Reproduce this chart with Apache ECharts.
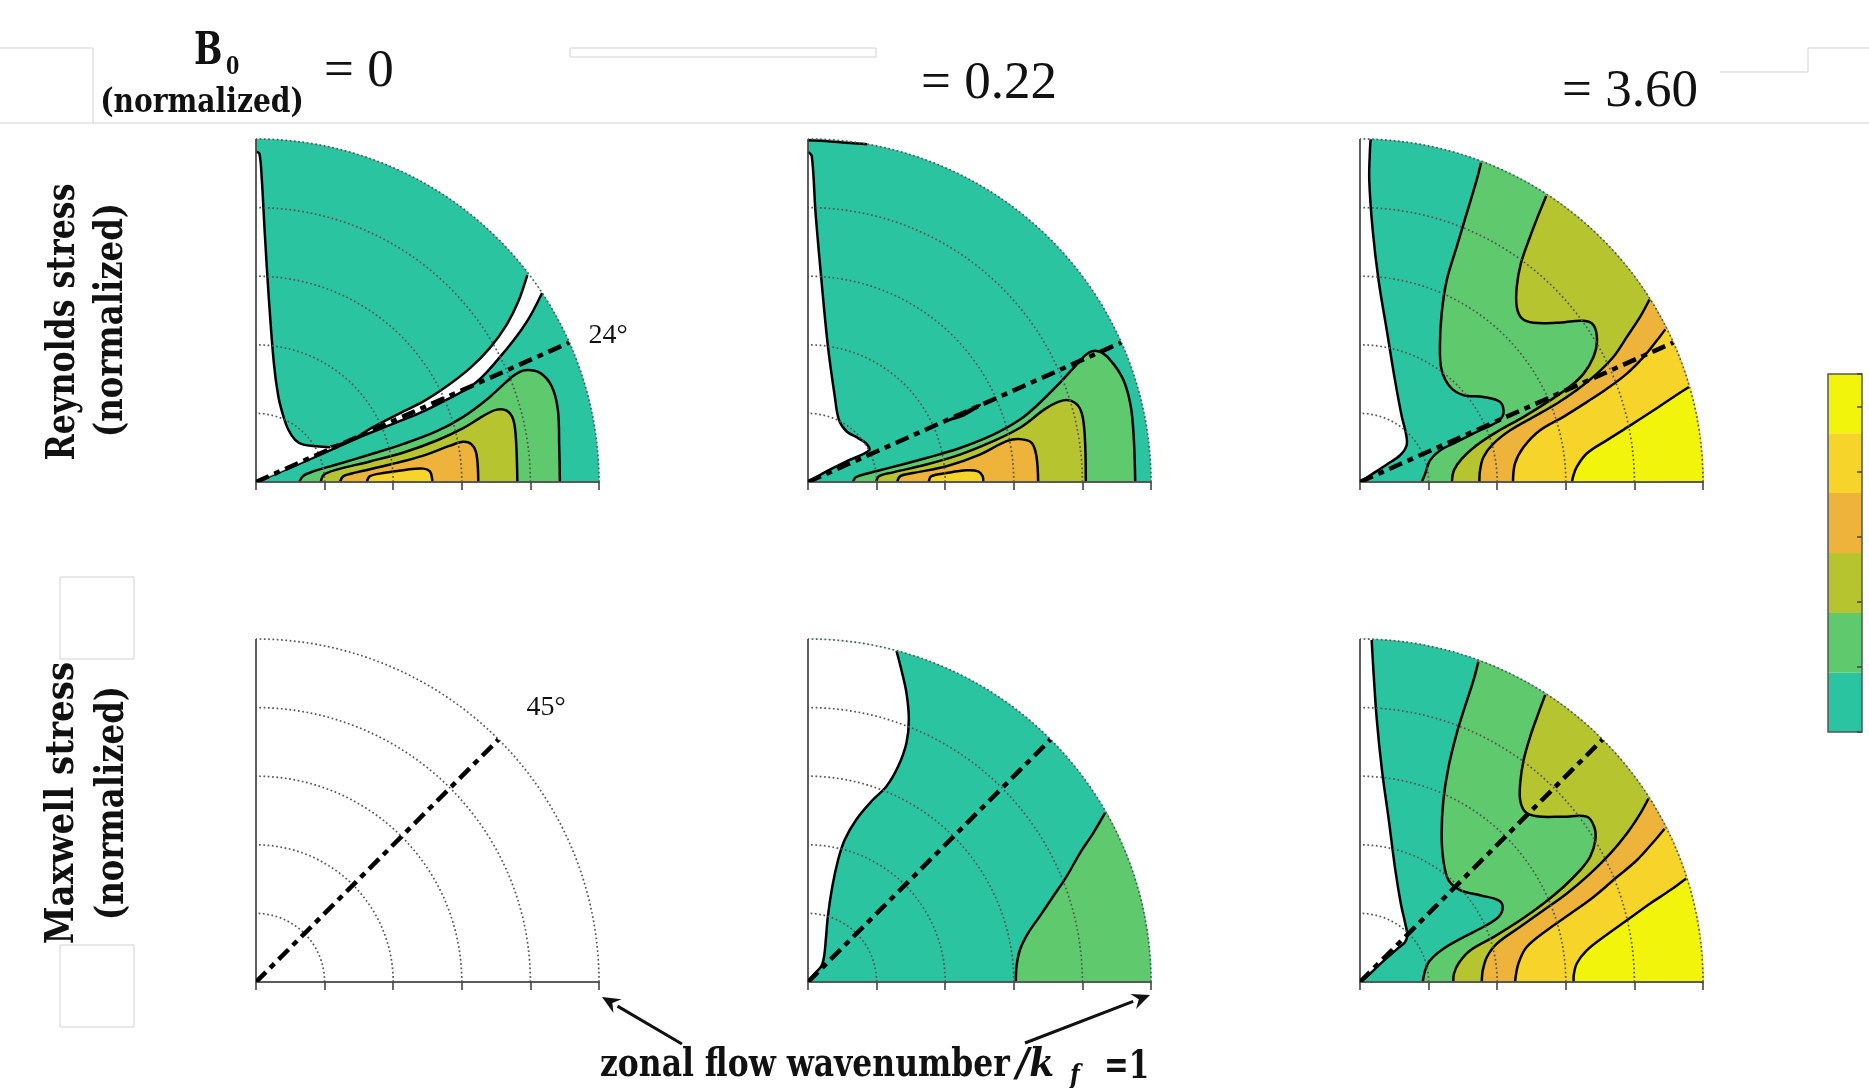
<!DOCTYPE html>
<html>
<head>
<meta charset="utf-8">
<script src="https://cdn.jsdelivr.net/npm/echarts@6/dist/echarts.min.js"></script>
<style>
  html, body { margin: 0; padding: 0; background: #fff; }
  #chart { width: 1869px; height: 1088px; }
</style>
</head>
<body>
<div id="chart"></div>
<script>
// level 0 = below lowest level (white), 1..6 = colour bands of the colorbar
const levelColors = ['#ffffff', '#2bc4a0', '#5fc96e', '#b6c430', '#eeb33a', '#f6d42a', '#f2f50b']
const B0Values = ['0', '0.22', '3.60']
const stressRows = ['Reynolds stress', 'Maxwell stress']
const dashAngles = [24, 24, 24, 45, 45, 45]
const colorbarEdges = [0, 0.91, 1.83, 2.75, 3.67, 4.59, 5.5]

// contour lines, points are (kx, ky) / k_f
// Reynolds stress, B0 = 0
const reyB0_edgeUpper = [[0.791,0.603],[0.765,0.527],[0.731,0.459],[0.682,0.391],[0.624,0.332],[0.556,0.279],[0.488,0.235],[0.410,0.196],[0.332,0.155],[0.280,0.123],[0.216,0.103]]
const reyB0_edgeLower = [[0,0],[0.119,0.050],[0.216,0.092],[0.313,0.135],[0.410,0.174],[0.488,0.206],[0.556,0.240],[0.624,0.277],[0.663,0.310],[0.711,0.364],[0.760,0.425],[0.799,0.483],[0.834,0.551]]
const reyB0_gap = [[0,0],[0.216,0.101],[0.177,0.104],[0.138,0.109],[0.114,0.123],[0.094,0.153],[0.080,0.191],[0.065,0.250],[0.052,0.347],[0.037,0.541],[0.025,0.736],[0.017,0.881],[0.010,0.957],[0,0.963]]
const reyB0_c2 = [[0.886,0],[0.884,0.104],[0.880,0.211],[0.862,0.279],[0.828,0.318],[0.784,0.326],[0.755,0.313],[0.721,0.284],[0.672,0.240],[0.604,0.190],[0.527,0.148],[0.430,0.111],[0.332,0.080],[0.235,0.051],[0.167,0.031],[0.138,0.018],[0.126,0]]
const reyB0_c3 = [[0.762,0],[0.758,0.123],[0.750,0.182],[0.731,0.208],[0.702,0.211],[0.663,0.193],[0.604,0.157],[0.527,0.121],[0.430,0.086],[0.332,0.060],[0.235,0.036],[0.198,0.021],[0.189,0]]
const reyB0_c4 = [[0.648,0],[0.643,0.080],[0.629,0.109],[0.604,0.117],[0.566,0.106],[0.488,0.077],[0.391,0.051],[0.293,0.028],[0.255,0.017],[0.245,0]]
const reyB0_c5 = [[0.514,0],[0.513,0.012],[0.507,0.031],[0.488,0.039],[0.439,0.036],[0.371,0.026],[0.332,0.017],[0.323,0]]

// Reynolds stress, B0 = 0.22
const reyB022_gap = [[0,0],[0.054,0.031],[0.112,0.060],[0.178,0.092],[0.170,0.112],[0.146,0.128],[0.112,0.148],[0.090,0.182],[0.078,0.250],[0.058,0.396],[0.039,0.590],[0.022,0.785],[0.011,0.950],[0,0.962]]
const reyB022_top = [[0,0.996],[0.063,0.993],[0.122,0.988],[0.172,0.985]]
const reyB022_hole = [[0.409,0.180],[0.443,0.196],[0.477,0.213],[0.501,0.225],[0.482,0.211],[0.448,0.192]]
const reyB022_c2 = [[0.954,0],[0.950,0.124],[0.941,0.221],[0.919,0.299],[0.880,0.357],[0.846,0.381],[0.817,0.376],[0.783,0.342],[0.734,0.289],[0.676,0.231],[0.618,0.182],[0.540,0.138],[0.443,0.099],[0.345,0.070],[0.248,0.044],[0.170,0.024],[0.139,0.014],[0.131,0]]
const reyB022_c3 = [[0.810,0],[0.807,0.133],[0.798,0.201],[0.778,0.231],[0.744,0.238],[0.696,0.216],[0.618,0.158],[0.540,0.119],[0.443,0.080],[0.345,0.051],[0.248,0.028],[0.207,0.017],[0.199,0]]
const reyB022_c4 = [[0.671,0],[0.666,0.075],[0.652,0.114],[0.618,0.125],[0.579,0.119],[0.501,0.080],[0.404,0.046],[0.306,0.026],[0.269,0.017],[0.260,0]]
const reyB022_c5 = [[0.511,0],[0.509,0.017],[0.496,0.031],[0.462,0.034],[0.404,0.026],[0.360,0.017],[0.352,0]]

// Reynolds stress, B0 = 3.60
const reyB360_gap = [[0,0],[0.029,0.019],[0.078,0.051],[0.117,0.078],[0.136,0.107],[0.134,0.141],[0.122,0.190],[0.102,0.297],[0.078,0.443],[0.054,0.589],[0.037,0.734],[0.027,0.880],[0.029,0.968],[0.031,0.999]]
const reyB360_c2 = [[0.353,0.931],[0.340,0.880],[0.311,0.783],[0.282,0.686],[0.253,0.589],[0.238,0.491],[0.233,0.394],[0.238,0.326],[0.263,0.277],[0.302,0.253],[0.360,0.248],[0.409,0.233],[0.418,0.199],[0.399,0.175],[0.340,0.146],[0.282,0.117],[0.233,0.092],[0.204,0.063],[0.190,0.024],[0.180,0]]
const reyB360_c3 = [[0.543,0.834],[0.520,0.778],[0.494,0.710],[0.469,0.637],[0.457,0.569],[0.457,0.511],[0.472,0.477],[0.506,0.464],[0.574,0.464],[0.652,0.470],[0.681,0.457],[0.691,0.413],[0.681,0.365],[0.652,0.316],[0.613,0.279],[0.554,0.238],[0.477,0.190],[0.399,0.146],[0.340,0.107],[0.297,0.068],[0.274,0.034],[0.268,0]]
const reyB360_c4 = [[0.844,0.532],[0.817,0.482],[0.778,0.423],[0.739,0.365],[0.691,0.316],[0.632,0.268],[0.574,0.229],[0.506,0.190],[0.438,0.151],[0.389,0.112],[0.360,0.073],[0.350,0.034],[0.348,0]]
const reyB360_c5 = [[0.890,0.445],[0.866,0.413],[0.827,0.365],[0.778,0.316],[0.720,0.272],[0.661,0.233],[0.593,0.190],[0.525,0.151],[0.477,0.102],[0.452,0.054],[0.446,0]]
const reyB360_c6 = [[0.959,0.277],[0.914,0.248],[0.856,0.209],[0.788,0.165],[0.720,0.122],[0.661,0.083],[0.632,0.044],[0.621,0.015],[0.618,0]]

// Maxwell stress, B0 = 0.22
const maxB022_gap = [[0,0],[0.019,0.024],[0.039,0.046],[0.047,0.075],[0.052,0.124],[0.058,0.192],[0.071,0.279],[0.088,0.357],[0.107,0.415],[0.141,0.474],[0.185,0.527],[0.229,0.571],[0.263,0.629],[0.287,0.697],[0.294,0.766],[0.287,0.843],[0.272,0.911],[0.258,0.965]]
const maxB022_c2 = [[0.866,0.493],[0.832,0.435],[0.793,0.376],[0.754,0.308],[0.715,0.250],[0.676,0.192],[0.642,0.143],[0.618,0.094],[0.608,0.046],[0.606,0]]

// Maxwell stress, B0 = 3.60
const maxB360_gap = [[0,0],[0.029,0.024],[0.068,0.061],[0.107,0.095],[0.131,0.116],[0.138,0.136],[0.132,0.170],[0.119,0.229],[0.103,0.326],[0.084,0.472],[0.064,0.618],[0.049,0.764],[0.039,0.910],[0.034,0.997]]
const maxB360_c2 = [[0.345,0.934],[0.331,0.880],[0.306,0.803],[0.282,0.725],[0.258,0.627],[0.243,0.530],[0.238,0.433],[0.243,0.355],[0.258,0.297],[0.292,0.268],[0.350,0.253],[0.404,0.238],[0.416,0.219],[0.404,0.190],[0.360,0.161],[0.302,0.131],[0.243,0.097],[0.204,0.063],[0.190,0.034],[0.183,0]]
const maxB360_c3 = [[0.540,0.837],[0.520,0.783],[0.496,0.715],[0.477,0.647],[0.467,0.579],[0.467,0.530],[0.482,0.496],[0.516,0.483],[0.593,0.482],[0.661,0.482],[0.683,0.452],[0.686,0.413],[0.671,0.365],[0.642,0.326],[0.593,0.277],[0.535,0.229],[0.467,0.180],[0.389,0.131],[0.321,0.092],[0.287,0.054],[0.274,0.024],[0.272,0]]
const maxB360_c4 = [[0.841,0.535],[0.817,0.491],[0.778,0.433],[0.730,0.375],[0.671,0.316],[0.603,0.258],[0.535,0.209],[0.467,0.161],[0.399,0.112],[0.370,0.073],[0.358,0.034],[0.355,0]]
const maxB360_c5 = [[0.888,0.447],[0.856,0.409],[0.807,0.355],[0.749,0.306],[0.681,0.248],[0.613,0.199],[0.545,0.151],[0.486,0.102],[0.462,0.054],[0.452,0]]
const maxB360_c6 = [[0.951,0.302],[0.905,0.268],[0.846,0.229],[0.778,0.180],[0.710,0.131],[0.661,0.092],[0.632,0.054],[0.623,0.019],[0.623,0]]

// layout of the 2x3 quarter discs
const colX = [256, 808, 1360]
const rowY = [482, 982]
const R = 343

const bg = { lvl: 1, pts: [[0, 0]], lines: [] }
const panels = [
  { regions: [bg,
    { lvl: 2, pts: reyB0_c2 }, { lvl: 3, pts: reyB0_c3 }, { lvl: 4, pts: reyB0_c4 }, { lvl: 5, pts: reyB0_c5 },
    { lvl: 0, pts: reyB0_edgeUpper.concat(reyB0_edgeLower), lines: [reyB0_edgeUpper, reyB0_edgeLower] },
    { lvl: 0, pts: reyB0_gap, lines: [reyB0_gap.slice(1)] }] },
  { regions: [bg,
    { lvl: 2, pts: reyB022_c2 }, { lvl: 3, pts: reyB022_c3 }, { lvl: 4, pts: reyB022_c4 }, { lvl: 5, pts: reyB022_c5 },
    { lvl: 0, pts: reyB022_gap }, { lvl: 0, pts: reyB022_top }, { lvl: 0, pts: reyB022_hole, closed: true }] },
  { regions: [bg,
    { lvl: 2, pts: reyB360_c2 }, { lvl: 3, pts: reyB360_c3 }, { lvl: 4, pts: reyB360_c4 }, { lvl: 5, pts: reyB360_c5 }, { lvl: 6, pts: reyB360_c6 },
    { lvl: 0, pts: reyB360_gap }] },
  { regions: [] },
  { regions: [bg, { lvl: 2, pts: maxB022_c2 }, { lvl: 0, pts: maxB022_gap }] },
  { regions: [bg,
    { lvl: 2, pts: maxB360_c2 }, { lvl: 3, pts: maxB360_c3 }, { lvl: 4, pts: maxB360_c4 }, { lvl: 5, pts: maxB360_c5 }, { lvl: 6, pts: maxB360_c6 },
    { lvl: 0, pts: maxB360_gap }] }
]

const toPolar = p => [Math.hypot(p[0], p[1]), Math.atan2(p[1], p[0]) * 180 / Math.PI]

// position along the edge of the quadrant: x axis 0..1, arc 1..2, y axis 2..3
function edgeS(p) {
  const [r, a] = toPolar(p)
  if (r < 1e-6) return 0
  if (a <= 0.5) return r
  if (a >= 89.5) return 3 - r
  return 1 + a / 90
}
function edgePoint(s) {
  s = s % 3
  if (s <= 1) return [s, 0]
  if (s <= 2) return [1, (s - 1) * 90]
  return [3 - s, 90]
}
function closeAlongEdge(first, last) {
  const s0 = edgeS(last)
  let s1 = edgeS(first)
  if (s1 <= s0) s1 += 3
  const out = []
  for (let i = Math.floor(s0 * 100) + 1; i < s1 * 100; i++) out.push(edgePoint(i / 100))
  return out
}
function snapEnd(p) {
  const q = toPolar(p)
  if (q[0] > 0.97 && q[1] > 0.5 && q[1] < 89.5) q[0] = 1
  return q
}

function makeRenderer(panel) {
  return function (params, api) {
    const reg = panel.regions[api.value(2)]
    const o = api.coord([0, 0]), e = api.coord([1, 0]), t = api.coord([1, 90])
    const box = [[o[0], t[1]], [e[0], o[1]]]
    const pts = reg.pts
    let poly = pts.map((p, i) => (i === 0 || i === pts.length - 1) ? snapEnd(p) : toPolar(p))
    if (!reg.closed) poly = poly.concat(closeAlongEdge(pts[0], pts[pts.length - 1]))
    const children = [{
      type: 'polygon',
      shape: { points: poly.map(p => api.coord(p)), smooth: 0.35, smoothConstraint: box },
      style: { fill: levelColors[reg.lvl], stroke: levelColors[reg.lvl], lineWidth: 0.5 }
    }]
    const lines = reg.lines || [reg.closed ? pts.concat([pts[0]]) : pts]
    lines.forEach(line => {
      children.push({
        type: 'polyline',
        shape: { points: line.map(p => api.coord(toPolar(p))), smooth: 0.35 },
        style: { stroke: '#000', lineWidth: 2.5, fill: null }
      })
    })
    return { type: 'group', children }
  }
}

const polar = [], angleAxis = [], radiusAxis = [], series = []
panels.forEach((panel, i) => {
  polar.push({ center: [colX[i % 3], rowY[Math.floor(i / 3)]], radius: R })
  angleAxis.push({
    polarIndex: i, type: 'value', min: 0, max: 90, interval: 90,
    startAngle: 0, endAngle: 90, clockwise: false, z: 3,
    axisLine: { show: false }, axisTick: { show: false }, axisLabel: { show: false },
    splitLine: { show: true, lineStyle: { color: '#444', width: 1.7 } }
  })
  radiusAxis.push({
    polarIndex: i, type: 'value', min: 0, max: 1, interval: 0.2, z: 3,
    axisLine: { show: true, lineStyle: { color: '#555', width: 1.6 } },
    axisTick: { show: true, length: -8, lineStyle: { color: '#444', width: 1.6 } },
    axisLabel: { show: false },
    splitLine: { show: true, lineStyle: { color: '#555', width: 1.7, type: [1.7, 2.6] } }
  })
  series.push({
    type: 'custom', coordinateSystem: 'polar', polarIndex: i, z: 1, silent: true,
    renderItem: makeRenderer(panel),
    data: panel.regions.map((r, k) => [0, 0, k])
  })
  series.push({
    type: 'line', coordinateSystem: 'polar', polarIndex: i, z: 6, silent: true,
    symbol: 'none', data: [[0, dashAngles[i]], [1, dashAngles[i]]],
    lineStyle: { color: '#000', width: 4.5, type: [14, 6, 6, 6] }
  })
})

// colorbar
colorbarEdges.slice(1).forEach((v, k) => {
  series.push({
    type: 'bar', xAxisIndex: 0, yAxisIndex: 0, stack: 'cb', barWidth: '100%', silent: true, z: 2,
    data: [+(v - colorbarEdges[k]).toFixed(3)],
    itemStyle: { color: levelColors[k + 1] }
  })
})

const serifB = '"DejaVu Serif Condensed", "DejaVu Serif", serif'
const mathFont = '"Liberation Serif", "DejaVu Serif", serif'
function txt(x, y, text, font, opts) {
  return Object.assign({
    type: 'text', x, y, silent: true,
    style: {
      text, font, fill: '#111',
      textAlign: (opts && opts.align) || 'left', align: (opts && opts.align) || 'left',
      textVerticalAlign: 'middle', verticalAlign: 'middle'
    }
  }, opts && opts.el)
}
function arrow(tail, tip) {
  const dx = tip[0] - tail[0], dy = tip[1] - tail[1], L = Math.hypot(dx, dy)
  const ux = dx / L, uy = dy / L, bx = tip[0] - ux * 18, by = tip[1] - uy * 18
  return [
    { type: 'line', silent: true, shape: { x1: tail[0], y1: tail[1], x2: bx, y2: by }, style: { stroke: '#111', lineWidth: 3 } },
    { type: 'polygon', silent: true, shape: { points: [tip, [bx - uy * 8, by + ux * 8], [tip[0] - ux * 12, tip[1] - uy * 12], [bx + uy * 8, by - ux * 8]] }, style: { fill: '#111' } }
  ]
}
const gray = { stroke: '#d2d2d2', lineWidth: 1, fill: null }
const graphic = [
  // faint boxes left over in the source figure
  { type: 'polyline', silent: true, shape: { points: [[0, 48], [93, 48], [93, 123]] }, style: gray },
  { type: 'line', silent: true, shape: { x1: 0, y1: 123, x2: 1869, y2: 123 }, style: gray },
  { type: 'rect', silent: true, shape: { x: 570, y: 48, width: 306, height: 9 }, style: gray },
  { type: 'polyline', silent: true, shape: { points: [[1720, 72], [1808, 72], [1808, 48], [1869, 48]] }, style: gray },
  { type: 'rect', silent: true, shape: { x: 60, y: 577, width: 74, height: 82 }, style: gray },
  { type: 'rect', silent: true, shape: { x: 60, y: 945, width: 74, height: 82 }, style: gray },
  // header
  txt(194, 53, 'B', 'bold 44px ' + serifB, { el: { scaleX: 0.85 } }),
  txt(226, 67, '0', 'bold 25px ' + serifB, { el: { scaleX: 0.85 } }),
  txt(202, 103, '(normalized)', 'bold 34px ' + serifB, { align: 'center', el: { scaleX: 0.92 } }),
  txt(324, 72, '= ' + B0Values[0], '53px ' + mathFont),
  txt(921, 84, '= ' + B0Values[1], '53px ' + mathFont),
  txt(1562, 92, '= ' + B0Values[2], '53px ' + mathFont),
  // row labels
  txt(64, 322, stressRows[0], 'bold 40px ' + serifB, { align: 'center', el: { rotation: Math.PI / 2, scaleX: 0.88 } }),
  txt(112, 320, '(normalized)', 'bold 40px ' + serifB, { align: 'center', el: { rotation: Math.PI / 2, scaleX: 0.9 } }),
  txt(63, 803, stressRows[1], 'bold 40px ' + serifB, { align: 'center', el: { rotation: Math.PI / 2, scaleX: 0.95 } }),
  txt(113, 803, '(normalized)', 'bold 40px ' + serifB, { align: 'center', el: { rotation: Math.PI / 2, scaleX: 0.9 } }),
  // angle labels
  txt(608, 336, dashAngles[0] + '°', '28px ' + mathFont, { align: 'center' }),
  txt(546, 708, dashAngles[3] + '°', '28px ' + mathFont, { align: 'center' }),
  // x label
  txt(600, 1066, 'zonal flow wavenumber', 'bold 40px ' + serifB, { el: { scaleX: 0.873 } }),
  txt(1016, 1066, '/k', 'bold italic 40px ' + serifB, { el: { scaleX: 1.0 } }),
  txt(1070, 1077, 'f', 'bold italic 28px ' + serifB, { el: { scaleX: 0.9 } }),
  txt(1104, 1068, '=1', 'bold 40px ' + serifB, { el: { scaleX: 0.82 } })
].concat(arrow([682, 1044], [602, 997]), arrow([1025, 1043], [1150, 995]))

const chart = echarts.init(document.getElementById('chart'), null, { renderer: 'canvas' })
chart.setOption({
  animation: false,
  backgroundColor: '#fff',
  polar, angleAxis, radiusAxis,
  grid: [{ left: 1828, top: 374, width: 34, height: 358, show: true, borderColor: '#555', borderWidth: 1.5, backgroundColor: 'transparent', z: 5 }],
  xAxis: [{ gridIndex: 0, type: 'category', data: ['c'], show: false }],
  yAxis: [{
    gridIndex: 0, type: 'value', min: 0, max: 5.5, interval: 1, position: 'right', z: 6,
    axisLine: { show: false }, axisLabel: { show: false }, splitLine: { show: false },
    axisTick: { show: true, inside: true, length: 5, lineStyle: { color: '#444', width: 1.5 } }
  }],
  graphic,
  series
})
</script>
</body>
</html>
